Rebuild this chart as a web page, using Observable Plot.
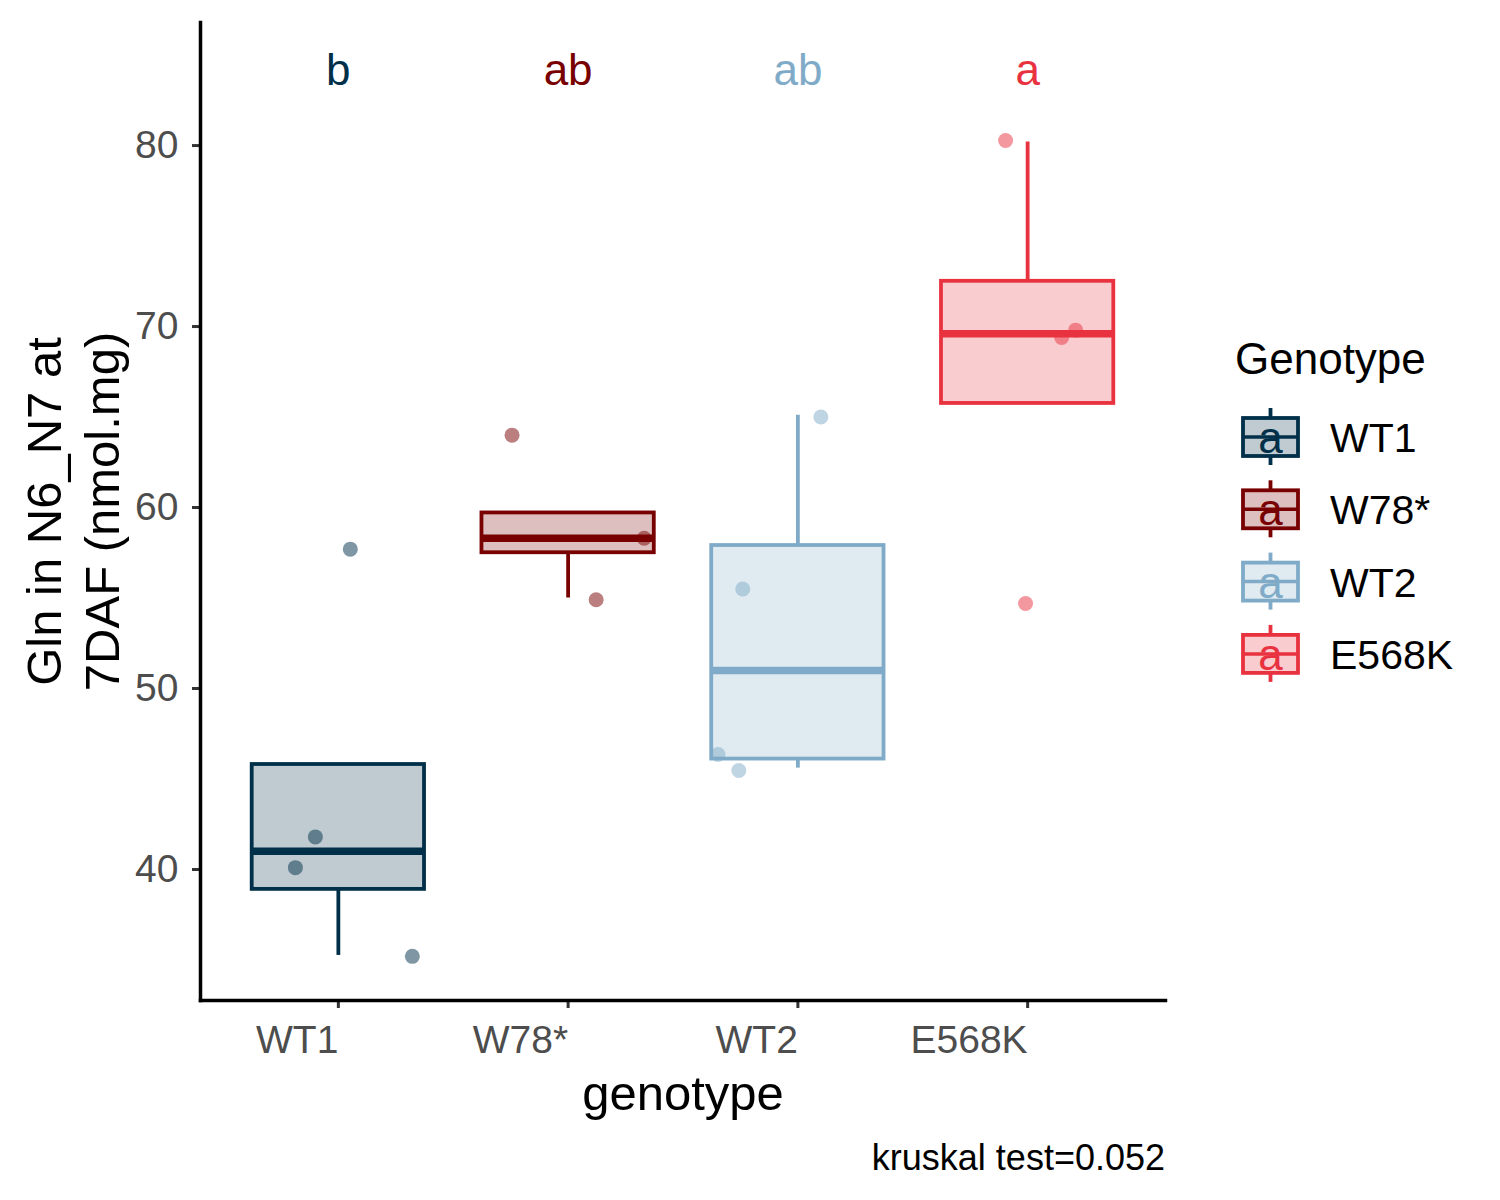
<!DOCTYPE html>
<html>
<head>
<meta charset="utf-8">
<script src="https://cdn.jsdelivr.net/npm/d3@7"></script>
<script src="https://cdn.jsdelivr.net/npm/@observablehq/plot@0.6"></script>
<style>
  html, body { margin: 0; padding: 0; background: #ffffff; }
  #chart { width: 1500px; height: 1200px; }
</style>
</head>
<body>
<div id="chart"></div>
<script>
// ---- data ----
const genotypes = ["WT1", "W78*", "WT2", "E568K"];
const colors = ["#003049", "#780000", "#7fabc8", "#e9323f"];
const letters = ["b", "ab", "ab", "a"];
const q1 = [38.9, 57.5, 46.1, 65.75];
const medians = [41.0, 58.3, 51.0, 69.6];
const q3 = [45.8, 59.7, 57.9, 72.5];
const whiskerLow = [35.25, 55.0, 45.6, 65.75];
const whiskerHigh = [45.8, 59.7, 65.1, 80.2];

const pointGenotype = ["WT1", "WT1", "WT1", "WT1",
                       "W78*", "W78*", "W78*",
                       "WT2", "WT2", "WT2", "WT2",
                       "E568K", "E568K", "E568K", "E568K"];
const pointValue = [57.7, 41.8, 40.1, 35.2,
                    64.0, 54.9, 58.3,
                    65.0, 55.5, 46.35, 45.47,
                    80.28, 69.4, 69.8, 54.7];
const pointJitter = [0.052, -0.10, -0.187, 0.322,
                     -0.244, 0.122, 0.331,
                     0.10, -0.24, -0.348, -0.257,
                     -0.096, 0.148, 0.209, -0.009];
const yTicks = [40, 50, 60, 70, 80];
const letterY = 84.35;
const yTitle = "Gln in N6_N7 at\n7DAF (nmol.mg)";
const xTitle = "genotype";
const legendTitle = "Genotype";
const caption = "kruskal test=0.052";

// ---- tables built from the arrays ----
const boxes = genotypes.map((g, i) => ({
  g, pos: i + 1, color: colors[i], letter: letters[i],
  q1: q1[i], med: medians[i], q3: q3[i], low: whiskerLow[i], high: whiskerHigh[i]
}));
const points = pointValue.map((v, i) => {
  const k = genotypes.indexOf(pointGenotype[i]);
  return { g: pointGenotype[i], value: v, pos: k + 1 + pointJitter[i], color: colors[k] };
});

const halfWidth = 0.375;
const lw = 3.8;
const font = "'Liberation Sans', Arial, sans-serif";

const svg = Plot.plot({
  width: 1500,
  height: 1200,
  marginLeft: 200,
  marginRight: 335,
  marginTop: 22,
  marginBottom: 200,
  style: { fontFamily: font, background: "#ffffff", overflow: "visible" },
  x: { type: "linear", domain: [0.4, 4.6] },
  y: { domain: [32.76, 86.8] },
  color: { type: "identity" },
  marks: [
    // whiskers
    Plot.ruleX(boxes, { x: "pos", y1: "low", y2: "q1", stroke: "color", strokeWidth: lw }),
    Plot.ruleX(boxes, { x: "pos", y1: "q3", y2: "high", stroke: "color", strokeWidth: lw }),
    // boxes
    Plot.rect(boxes, {
      x1: d => d.pos - halfWidth, x2: d => d.pos + halfWidth,
      y1: "q1", y2: "q3",
      fill: "color", fillOpacity: 0.25, stroke: "color", strokeWidth: lw
    }),
    // medians
    Plot.ruleY(boxes, {
      y: "med", x1: d => d.pos - halfWidth, x2: d => d.pos + halfWidth,
      stroke: "color", strokeWidth: 7.5
    }),
    // jittered points
    Plot.dot(points, { x: "pos", y: "value", r: 7.5, fill: "color", fillOpacity: 0.5, stroke: null }),
    // significance letters
    Plot.text(boxes, {
      x: "pos", y: () => letterY, text: "letter", fill: "color",
      fontSize: 44, textAnchor: "middle", lineAnchor: "middle", dy: 4
    }),
    // axes
    Plot.axisY({
      ticks: yTicks, tickSize: 8, tickPadding: 14, fontSize: 39,
      stroke: "#333333", strokeWidth: 3, fill: "#4d4d4d", label: null
    }),
    Plot.axisX({
      ticks: [1, 2, 3, 4], tickFormat: d => genotypes[d - 1],
      tickSize: 8, tickPadding: 17, fontSize: 39, textAnchor: "end",
      stroke: "#333333", strokeWidth: 3, fill: "#4d4d4d", label: null
    }),
    Plot.frame({ anchor: "left", stroke: "#000000", strokeWidth: 3.5 }),
    Plot.frame({ anchor: "bottom", stroke: "#000000", strokeWidth: 3.5 }),
    // axis titles
    Plot.text([xTitle], {
      frameAnchor: "bottom", dy: 94, text: d => d, fontSize: 49,
      fill: "#000000", textAnchor: "middle", lineAnchor: "middle"
    }),
    Plot.text([yTitle], {
      frameAnchor: "left", dx: -129, text: d => d, fontSize: 49, rotate: -90,
      fill: "#000000", textAnchor: "middle", lineAnchor: "middle", lineHeight: 1.18
    })
  ]
});

document.getElementById("chart").appendChild(svg);

// ---- legend and caption ----
const root = d3.select(svg);
const lg = root.append("g").attr("font-family", font).attr("text-anchor", "start");
lg.append("text")
  .attr("x", 1235).attr("y", 374)
  .attr("text-anchor", "start")
  .attr("font-size", 44).attr("fill", "#000")
  .text(legendTitle);

const keyX = 1243, keyW = 55, keyStep = 72.3, keyY0 = 437;
genotypes.forEach((g, i) => {
  const cy = keyY0 + i * keyStep;
  const c = colors[i];
  const k = lg.append("g");
  k.append("line").attr("x1", keyX + keyW / 2).attr("x2", keyX + keyW / 2)
    .attr("y1", cy - 29).attr("y2", cy - 19).attr("stroke", c).attr("stroke-width", lw);
  k.append("line").attr("x1", keyX + keyW / 2).attr("x2", keyX + keyW / 2)
    .attr("y1", cy + 19).attr("y2", cy + 28).attr("stroke", c).attr("stroke-width", lw);
  k.append("rect").attr("x", keyX).attr("y", cy - 19).attr("width", keyW).attr("height", 38)
    .attr("fill", c).attr("fill-opacity", 0.25).attr("stroke", c).attr("stroke-width", lw);
  k.append("line").attr("x1", keyX).attr("x2", keyX + keyW)
    .attr("y1", cy).attr("y2", cy).attr("stroke", c).attr("stroke-width", 3.5);
  k.append("text").attr("x", keyX + keyW / 2).attr("y", cy + 16)
    .attr("text-anchor", "middle").attr("font-size", 44).attr("fill", c).text("a");
  lg.append("text").attr("x", 1330).attr("y", cy + 15)
    .attr("text-anchor", "start")
    .attr("font-size", 41).attr("fill", "#000").text(g);
});

root.append("text")
  .attr("x", 1165).attr("y", 1170)
  .attr("text-anchor", "end")
  .attr("font-family", font).attr("font-size", 36).attr("fill", "#000")
  .text(caption);
</script>
</body>
</html>
